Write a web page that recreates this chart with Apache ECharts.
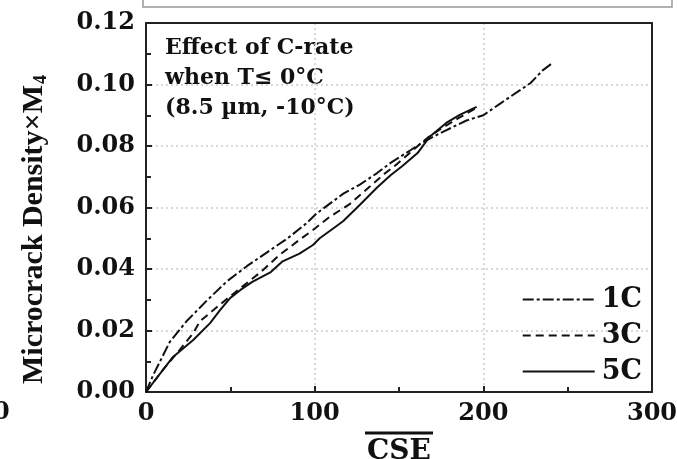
<!DOCTYPE html>
<html>
<head>
<meta charset="utf-8">
<script src="https://cdn.jsdelivr.net/npm/echarts@6/dist/echarts.min.js"></script>
<style>html,body{margin:0;padding:0;background:#fff;}#c{width:677px;height:459px;}</style>
</head>
<body>
<div id="c"></div>
<script>
// ---- data ----
const seriesNames = ['1C', '3C', '5C'];
const cse1C = [0, 4, 14, 24, 36, 48, 60, 72, 84, 95, 101, 117, 127, 137, 145, 157, 164, 176, 190, 200, 210, 220, 228, 235, 241];
const val1C = [0, 0.0052, 0.0162, 0.0230, 0.0297, 0.0360, 0.0410, 0.0455, 0.0500, 0.0548, 0.0580, 0.0645, 0.0675, 0.0712, 0.0745, 0.0787, 0.0812, 0.0846, 0.0883, 0.0900, 0.0938, 0.0975, 0.1005, 0.1045, 0.1070];
const cse3C = [0, 10, 20, 28, 32, 44, 56, 68, 79, 91, 99, 109, 121, 131, 141, 149, 158, 167, 176, 186, 196];
const val3C = [0, 0.0072, 0.0137, 0.0192, 0.0230, 0.0285, 0.0338, 0.0390, 0.0445, 0.0495, 0.0527, 0.0570, 0.0612, 0.0660, 0.0708, 0.0742, 0.0785, 0.0827, 0.0860, 0.0893, 0.0924];
const cse5C = [0, 16, 28, 38, 44, 50, 56, 63, 74, 81, 91, 99, 103, 113, 117, 127, 137, 145, 152, 161, 168, 178, 186, 196];
const val5C = [0, 0.0114, 0.0169, 0.0224, 0.0267, 0.0306, 0.0332, 0.0358, 0.0390, 0.0425, 0.0450, 0.0478, 0.0500, 0.0540, 0.0556, 0.0610, 0.0665, 0.0705, 0.0735, 0.0777, 0.0829, 0.0875, 0.0901, 0.0927];
const xTicks = [0, 100, 200, 300];
const yTicks = [0, 0.02, 0.04, 0.06, 0.08, 0.10, 0.12];
const noteLines = ['Effect of C-rate', 'when T\u2264 0\u00B0C', '(8.5 \u00B5m, -10\u00B0C)'];

const pairs = (xs, ys) => xs.map((x, i) => [x, ys[i]]);
const serif = '"DejaVu Serif", serif';
const times = '"Liberation Serif", "Times New Roman", serif';

const chart = echarts.init(document.getElementById('c'));
const dashTypes = [[11, 3, 3, 3], [8, 5], 'solid'];
const dataSets = [pairs(cse1C, val1C), pairs(cse3C, val3C), pairs(cse5C, val5C)];

const xMin = xTicks[0], xMax = xTicks[xTicks.length - 1];
const yMin = yTicks[0], yMax = yTicks[yTicks.length - 1];
const frameAxis = { show: true, axisLine: { show: true, onZero: false, lineStyle: { color: '#222', width: 2 } },
  axisTick: { show: false }, axisLabel: { show: false }, splitLine: { show: false } };

chart.setOption({
  animation: false,
  backgroundColor: '#fff',
  grid: { left: 146, right: 25, top: 23, bottom: 67, outerBoundsMode: 'none', containLabel: false },
  xAxis: [{
    type: 'value', min: xMin, max: xMax, interval: 100, position: 'bottom',
    axisLine: { onZero: false, lineStyle: { color: '#222', width: 2 } },
    axisTick: { inside: true, length: 6, lineStyle: { color: '#222', width: 2 } },
    minorTick: { show: true, splitNumber: 2, length: 5, lineStyle: { color: '#222', width: 2 } },
    splitLine: { show: true, lineStyle: { color: '#cccccc', type: [2, 3], width: 1.5 } },
    axisLabel: { margin: 10, color: '#111', fontFamily: serif, fontWeight: 'bold', fontSize: 24 },
    name: '{bar| }\n{t|CSE}', nameLocation: 'middle', nameGap: 37, nameMoveOverlap: false,
    nameTextStyle: {
      rich: {
        bar: { width: 68, height: 3, lineHeight: 8, backgroundColor: '#111' },
        t: { fontFamily: serif, fontWeight: 'bold', fontSize: 28, color: '#111', lineHeight: 30 }
      }
    }
  }, Object.assign({ type: 'value', min: xMin, max: xMax, interval: 100, position: 'top' }, frameAxis)],
  yAxis: [{
    type: 'value', min: yMin, max: yMax, interval: 0.02, position: 'left',
    axisLine: { onZero: false, lineStyle: { color: '#222', width: 2 } },
    axisTick: { inside: true, length: 6, lineStyle: { color: '#222', width: 2 } },
    minorTick: { show: true, splitNumber: 2, length: 5, lineStyle: { color: '#222', width: 2 } },
    splitLine: { show: true, lineStyle: { color: '#cccccc', type: [2, 3], width: 1.5 } },
    axisLabel: { margin: 11, color: '#111', fontFamily: serif, fontWeight: 'bold', fontSize: 24, formatter: v => v.toFixed(2) },
    name: '{t|Microcrack Density\u00D7M}{s|4}', nameLocation: 'middle', nameGap: 96, nameRotate: 90, nameMoveOverlap: false,
    nameTextStyle: {
      padding: [0, 44, 0, 0],
      rich: {
        t: { fontFamily: times, fontWeight: 'bold', fontSize: 30, color: '#111' },
        s: { fontFamily: times, fontWeight: 'bold', fontSize: 18, color: '#111', padding: [14, 0, 0, 1] }
      }
    }
  }, Object.assign({ type: 'value', min: yMin, max: yMax, interval: 0.02, position: 'right' }, frameAxis)],
  legend: {
    orient: 'vertical', right: 30, top: 281, itemWidth: 72, itemHeight: 20, itemGap: 9,
    data: seriesNames,
    itemStyle: { color: 'rgba(0,0,0,0)', borderWidth: 0, opacity: 0 },
    textStyle: { fontFamily: serif, fontWeight: 'bold', fontSize: 27, color: '#111', padding: [0, 0, 0, 2] },
    backgroundColor: 'transparent'
  },
  series: seriesNames.map((n, i) => ({
    name: n, type: 'line', data: dataSets[i], symbol: 'none', showSymbol: false, xAxisIndex: 0, yAxisIndex: 0,
    lineStyle: { color: '#111', width: 2, type: dashTypes[i] }, itemStyle: { color: '#111' }
  })),
  graphic: [
    { type: 'rect', shape: { x: 143, y: -10, width: 529, height: 17 }, style: { fill: 'none', stroke: '#999', lineWidth: 1.5 } },
    { type: 'text', x: -7, y: 401, style: { text: '0', fontFamily: serif, fontWeight: 'bold', fontSize: 24, fill: '#111' } },
    { type: 'text', x: 165, y: 33, style: { text: noteLines.join('\n'), fontFamily: serif, fontWeight: 'bold', fontSize: 22, lineHeight: 30, fill: '#111' } }
  ]
});
</script>
</body>
</html>
